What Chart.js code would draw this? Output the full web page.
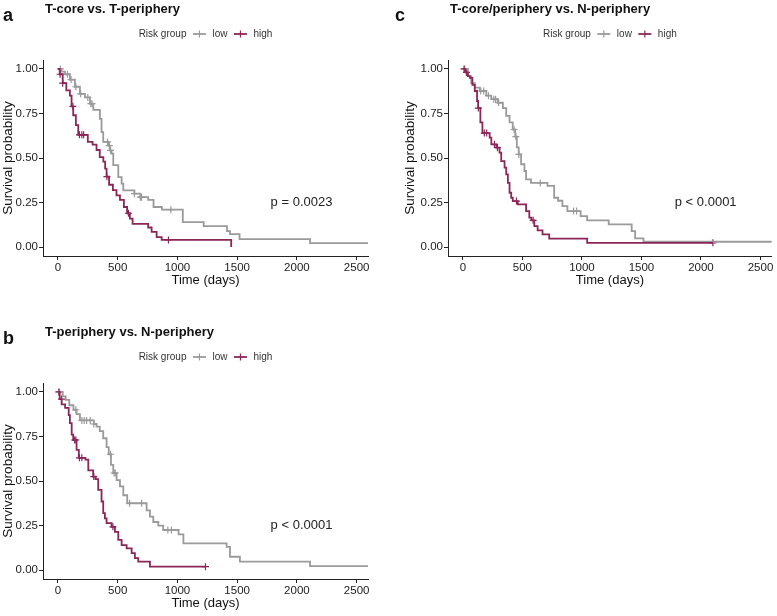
<!DOCTYPE html>
<html>
<head>
<meta charset="utf-8">
<script src="https://cdn.jsdelivr.net/npm/chart.js@4"></script>
<style>
body { margin: 0; width: 777px; height: 616px; overflow: hidden; background: #fff; position: relative; }
.panel { position: absolute; }
</style>
</head>
<body>
<div class="panel" style="left:0;top:0"><canvas id="chartA" width="388" height="300"></canvas></div>
<div class="panel" style="left:390px;top:0"><canvas id="chartC" width="387" height="300"></canvas></div>
<div class="panel" style="left:0;top:323px"><canvas id="chartB" width="388" height="300"></canvas></div>
<script>
// axis ticks
const xTicks = [0, 500, 1000, 1500, 2000, 2500];
const yTicks = [0, 0.25, 0.5, 0.75, 1];
const groups = ['low', 'high'];

// panel a: T-core vs. T-periphery
const aLowTime = [0, 30, 59, 100, 142, 184, 226, 268, 296, 351, 365, 379, 421, 435, 449, 463, 505, 533, 547, 640, 690, 755, 800, 870, 1045, 1220, 1415, 1440, 1520, 2110, 2595];
const aLowSurv = [1, 0.985, 0.97, 0.94, 0.90, 0.86, 0.84, 0.805, 0.77, 0.72, 0.645, 0.59, 0.57, 0.543, 0.525, 0.46, 0.393, 0.356, 0.318, 0.30, 0.28, 0.265, 0.225, 0.21, 0.14, 0.118, 0.09, 0.073, 0.045, 0.022, 0.022];
const aLowCens = [20, 80, 110, 150, 190, 250, 275, 285, 415, 430, 440, 640, 690, 700, 945];
const aHighTime = [0, 15, 40, 70, 100, 114, 128, 150, 170, 250, 290, 323, 350, 380, 395, 407, 428, 460, 490, 519, 552, 579, 602, 625, 755, 784, 826, 868, 1450];
const aHighSurv = [1, 0.97, 0.92, 0.88, 0.85, 0.79, 0.74, 0.685, 0.63, 0.59, 0.575, 0.545, 0.505, 0.48, 0.44, 0.395, 0.35, 0.32, 0.29, 0.265, 0.225, 0.19, 0.16, 0.13, 0.11, 0.085, 0.056, 0.04, 0];
const aHighCens = [18, 40, 125, 180, 200, 215, 410, 590, 925];

// panel b: T-periphery vs. N-periphery
const bLowTime = [0, 40, 65, 95, 130, 156, 184, 300, 323, 350, 379, 407, 425, 444, 463, 491, 519, 547, 580, 742, 770, 798, 840, 881, 1010, 1050, 1412, 1440, 1523, 2110, 2595];
const bLowSurv = [1, 0.975, 0.955, 0.925, 0.9, 0.875, 0.84, 0.82, 0.805, 0.78, 0.74, 0.69, 0.65, 0.59, 0.545, 0.505, 0.47, 0.42, 0.375, 0.335, 0.30, 0.27, 0.25, 0.225, 0.20, 0.15, 0.13, 0.075, 0.047, 0.022, 0.022];
const bLowCens = [10, 150, 200, 220, 240, 270, 300, 440, 470, 480, 600, 700, 920, 950];
const bHighTime = [0, 15, 31, 60, 90, 100, 115, 128, 156, 175, 230, 254, 295, 315, 337, 365, 379, 393, 407, 449, 477, 505, 533, 575, 617, 644, 672, 770, 1235];
const bHighSurv = [1, 0.96, 0.93, 0.91, 0.87, 0.825, 0.76, 0.73, 0.675, 0.63, 0.62, 0.56, 0.525, 0.51, 0.45, 0.385, 0.32, 0.29, 0.264, 0.243, 0.215, 0.17, 0.14, 0.122, 0.095, 0.067, 0.047, 0.019, 0.019];
const bHighCens = [8, 30, 140, 150, 180, 200, 300, 460, 1235];

// panel c: T-core/periphery vs. N-periphery
const cLowTime = [0, 42, 70, 100, 142, 197, 239, 292, 336, 364, 392, 419, 440, 453, 469, 489, 517, 531, 572, 711, 767, 800, 836, 878, 989, 1044, 1225, 1418, 1447, 1517, 2595];
const cLowSurv = [1, 0.96, 0.92, 0.895, 0.876, 0.85, 0.83, 0.81, 0.78, 0.736, 0.70, 0.66, 0.62, 0.56, 0.52, 0.465, 0.427, 0.38, 0.36, 0.343, 0.277, 0.26, 0.23, 0.202, 0.174, 0.15, 0.127, 0.09, 0.049, 0.03, 0.03];
const cLowCens = [15, 150, 175, 215, 260, 275, 300, 430, 445, 470, 650, 930, 955];
const cHighTime = [0, 20, 42, 58, 80, 100, 119, 128, 147, 164, 225, 239, 281, 308, 322, 350, 364, 378, 392, 406, 419, 461, 531, 558, 575, 600, 628, 669, 725, 1044, 2100];
const cHighSurv = [1, 0.98, 0.96, 0.95, 0.91, 0.876, 0.82, 0.78, 0.70, 0.64, 0.614, 0.577, 0.558, 0.53, 0.483, 0.446, 0.408, 0.36, 0.305, 0.277, 0.258, 0.24, 0.202, 0.165, 0.15, 0.118, 0.094, 0.071, 0.047, 0.024, 0.024];
const cHighCens = [10, 30, 130, 180, 200, 265, 290, 450, 590, 2100];

const lowColor = '#9a9a9a';
const highColor = '#8c2658';
const axisColor = '#222';
const fontName = '"Liberation Sans", Arial, sans-serif';

function survAt(times, surv, t) {
    let s = surv[0];
    for (let i = 0; i < times.length; i++) {
        if (times[i] <= t) s = surv[i];
    }
    return s;
}

function curve(times, surv) {
    return times.map((t, i) => ({ x: t, y: surv[i] }));
}

function censors(cens, times, surv) {
    return cens.map(t => ({ x: t, y: survAt(times, surv, t) }));
}

const decor = {
    id: 'decor',
    afterDraw(chart, args, opts) {
        const { ctx, chartArea, scales } = chart;
        ctx.save();
        ctx.fillStyle = '#111';
        ctx.textBaseline = 'alphabetic';
        ctx.textAlign = 'left';
        ctx.font = 'bold 18px ' + fontName;
        ctx.fillText(opts.letter, opts.letterX, 21);
        ctx.font = 'bold 13px ' + fontName;
        ctx.fillText(opts.title, chartArea.left + 2, 13);

        // legend row
        ctx.font = '10px ' + fontName;
        ctx.fillStyle = '#333';
        ctx.textBaseline = 'middle';
        const sym = 13, gap = 6.5;
        const parts = ['Risk group', groups[0], groups[1]];
        const widths = parts.map(p => ctx.measureText(p).width);
        const total = widths[0] + widths[1] + widths[2] + 2 * sym + 4 * gap;
        let x = (chartArea.left + chartArea.right) / 2 - total / 2;
        const ly = 34;
        ctx.fillText(parts[0], x, ly);
        x += widths[0] + gap;
        [lowColor, highColor].forEach((col, i) => {
            ctx.strokeStyle = col;
            ctx.lineWidth = 1.8;
            ctx.beginPath();
            ctx.moveTo(x, ly);
            ctx.lineTo(x + sym, ly);
            ctx.stroke();
            ctx.lineWidth = 1.2;
            ctx.beginPath();
            ctx.moveTo(x + sym / 2, ly - 3.5);
            ctx.lineTo(x + sym / 2, ly + 3.5);
            ctx.stroke();
            x += sym + gap;
            ctx.fillText(parts[i + 1], x, ly);
            x += widths[i + 1] + gap;
        });

        // p value
        ctx.fillStyle = '#222';
        ctx.font = '13px ' + fontName;
        ctx.fillText(opts.pText, scales.x.getPixelForValue(1780), scales.y.getPixelForValue(0.25));
        ctx.restore();
    }
};

function makeChart(id, cfg) {
    new Chart(document.getElementById(id), {
        type: 'line',
        data: {
            datasets: [
                { label: groups[1], data: curve(cfg.highTime, cfg.highSurv), borderColor: highColor, borderWidth: 1.8, stepped: 'before', pointRadius: 0, fill: false },
                { label: groups[0], data: curve(cfg.lowTime, cfg.lowSurv), borderColor: lowColor, borderWidth: 1.8, stepped: 'before', pointRadius: 0, fill: false },
                { data: censors(cfg.highCens, cfg.highTime, cfg.highSurv), showLine: false, pointStyle: 'cross', pointRadius: 3.5, borderColor: highColor, pointBorderWidth: 1.2 },
                { data: censors(cfg.lowCens, cfg.lowTime, cfg.lowSurv), showLine: false, pointStyle: 'cross', pointRadius: 3.5, borderColor: lowColor, pointBorderWidth: 1.2 }
            ]
        },
        options: {
            responsive: false,
            animation: false,
            devicePixelRatio: 1,
            layout: { padding: { top: 60, left: cfg.padLeft, right: cfg.padRight, bottom: 0 } },
            plugins: {
                legend: { display: false },
                tooltip: { enabled: false },
                decor: { letter: cfg.letter, letterX: cfg.letterX, title: cfg.title, pText: cfg.pText }
            },
            scales: {
                x: {
                    type: 'linear',
                    min: -125,
                    max: 2595,
                    afterFit: scale => { scale.height = 44; },
                    afterBuildTicks: scale => { scale.ticks = xTicks.map(v => ({ value: v })); },
                    grid: { drawOnChartArea: false, drawTicks: true, tickLength: 4, color: axisColor },
                    border: { display: true, color: axisColor, width: 1 },
                    ticks: { color: axisColor, padding: 1, font: { family: fontName, size: 11.5 }, callback: v => String(v) },
                    title: { display: true, text: 'Time (days)', color: '#111', font: { family: fontName, size: 13 }, padding: { top: 0, bottom: 12 } }
                },
                y: {
                    type: 'linear',
                    min: -0.05,
                    max: 1.05,
                    afterFit: scale => { scale.width = cfg.yWidth; },
                    afterBuildTicks: scale => { scale.ticks = yTicks.map(v => ({ value: v })); },
                    grid: { drawOnChartArea: false, drawTicks: true, tickLength: 4, color: axisColor },
                    border: { display: true, color: axisColor, width: 1 },
                    ticks: { color: axisColor, padding: 1, font: { family: fontName, size: 11.5 }, callback: v => v.toFixed(2) },
                    title: { display: true, text: 'Survival probability', color: '#111', font: { family: fontName, size: 13.5 }, padding: { top: 0, bottom: 0 } }
                }
            }
        },
        plugins: [decor]
    });
}

makeChart('chartA', {
    letter: 'a', letterX: 3, title: 'T-core vs. T-periphery', pText: 'p = 0.0023',
    padLeft: 0, padRight: 20, yWidth: 43,
    lowTime: aLowTime, lowSurv: aLowSurv, lowCens: aLowCens,
    highTime: aHighTime, highSurv: aHighSurv, highCens: aHighCens
});

makeChart('chartB', {
    letter: 'b', letterX: 3, title: 'T-periphery vs. N-periphery', pText: 'p < 0.0001',
    padLeft: 0, padRight: 20, yWidth: 43,
    lowTime: bLowTime, lowSurv: bLowSurv, lowCens: bLowCens,
    highTime: bHighTime, highSurv: bHighSurv, highCens: bHighCens
});

makeChart('chartC', {
    letter: 'c', letterX: 5, title: 'T-core/periphery vs. N-periphery', pText: 'p < 0.0001',
    padLeft: 12, padRight: 4, yWidth: 46,
    lowTime: cLowTime, lowSurv: cLowSurv, lowCens: cLowCens,
    highTime: cHighTime, highSurv: cHighSurv, highCens: cHighCens
});
</script>
</body>
</html>
